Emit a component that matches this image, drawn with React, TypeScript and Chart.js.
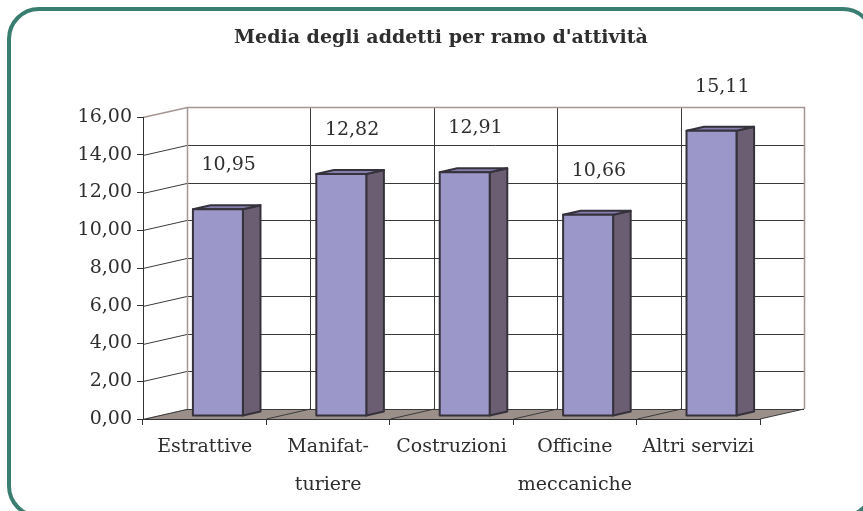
import React, { useEffect, useRef } from "react";
import { Chart, registerables } from "chart.js";

Chart.register(...registerables);

const chartTitle = "Media degli addetti per ramo d'attività";
const categories: (string | string[])[] = [
  "Estrattive",
  ["Manifat-", "turiere"],
  "Costruzioni",
  ["Officine", "meccaniche"],
  "Altri servizi",
];
const values = [10.95, 12.82, 12.91, 10.66, 15.11];
const yMin = 0;
const yMax = 16;
const yStep = 2;

const FONT = "'DejaVu Serif', 'Liberation Serif', serif";
const TEXT = "#2e2e2e";
const DX = 44;
const DY = -10;
const D1 = 0.3;
const D2 = 0.7;

const fmt = (v: number) => v.toFixed(2).replace(".", ",");

const line = (ctx: CanvasRenderingContext2D, pts: number[][], color: string, w = 1) => {
  ctx.beginPath();
  ctx.moveTo(pts[0][0], pts[0][1]);
  for (let i = 1; i < pts.length; i++) ctx.lineTo(pts[i][0], pts[i][1]);
  ctx.strokeStyle = color;
  ctx.lineWidth = w;
  ctx.stroke();
};

const depthPlugin = {
  id: "depth3d",
  beforeDraw(chart: any) {
    const { ctx, chartArea: ca, scales } = chart;
    const y = scales.y;
    const x = scales.x;
    const L = ca.left, R = ca.right, T = ca.top, B = ca.bottom;
    ctx.save();
    // floor
    ctx.beginPath();
    ctx.moveTo(L, B);
    ctx.lineTo(R, B);
    ctx.lineTo(R + DX, B + DY);
    ctx.lineTo(L + DX, B + DY);
    ctx.closePath();
    ctx.fillStyle = "#9b8f8a";
    ctx.fill();

    const dark = "#3a3a3a";
    const edge = "#a39693";
    for (const t of y.ticks) {
      const py = Math.round(y.getPixelForValue(t.value)) + 0.5;
      if (t.value >= yMax) continue;
      line(ctx, [[L, py], [L + DX, py + DY], [R + DX, py + DY]], dark);
    }
    const n = x.ticks.length;
    for (let i = 1; i < n; i++) {
      const bx = Math.round((x.getPixelForTick(i - 1) + x.getPixelForTick(i)) / 2) + 0.5;
      line(ctx, [[bx + DX, T + DY], [bx + DX, B + DY]], dark);
      line(ctx, [[bx, B], [bx + DX, B + DY]], dark);
    }
    line(ctx, [[R, B], [R + DX, B + DY]], dark);
    const tp = Math.round(T) + 0.5;
    const lx = Math.round(L + DX) + 0.5;
    const rx = Math.round(R + DX) + 0.5;
    line(ctx, [[L, tp], [lx, tp + DY], [rx, tp + DY], [rx, B + DY]], edge, 1.5);
    line(ctx, [[lx, tp + DY], [lx, B + DY]], edge, 1.5);
    ctx.restore();
  },
  afterDatasetsDraw(chart: any) {
    const { ctx } = chart;
    const meta = chart.getDatasetMeta(0);
    ctx.save();
    ctx.lineJoin = "round";
    meta.data.forEach((el: any, i: number) => {
      const { x: cx, y: top, base, width } = el.getProps(["x", "y", "base", "width"], true);
      const dx1 = DX * D1, dy1 = DY * D1, dx2 = DX * D2, dy2 = DY * D2;
      const l = cx - width / 2, r = cx + width / 2;
      const stroke = "#36323b";
      ctx.beginPath();
      ctx.moveTo(r + dx1, top + dy1);
      ctx.lineTo(r + dx2, top + dy2);
      ctx.lineTo(r + dx2, base + dy2);
      ctx.lineTo(r + dx1, base + dy1);
      ctx.closePath();
      ctx.fillStyle = "#6b5e73";
      ctx.fill();
      ctx.strokeStyle = stroke;
      ctx.lineWidth = 2;
      ctx.stroke();
      ctx.beginPath();
      ctx.moveTo(l + dx1, top + dy1);
      ctx.lineTo(l + dx2, top + dy2);
      ctx.lineTo(r + dx2, top + dy2);
      ctx.lineTo(r + dx1, top + dy1);
      ctx.closePath();
      ctx.fillStyle = "#857eae";
      ctx.fill();
      ctx.stroke();
      ctx.beginPath();
      ctx.rect(l + dx1, top + dy1, width, base - top);
      ctx.fillStyle = "#9c97c9";
      ctx.fill();
      ctx.stroke();
      ctx.font = `19px ${FONT}`;
      ctx.fillStyle = TEXT;
      ctx.textAlign = "center";
      ctx.textBaseline = "middle";
      const v = chart.data.datasets[0].data[i];
      ctx.fillText(fmt(v), cx + DX / 2 + 2, top + DY / 2 - 42);
    });
    ctx.restore();
  },
  afterDraw(chart: any) {
    const { ctx } = chart;
    ctx.save();
    ctx.font = `bold 19px ${FONT}`;
    ctx.fillStyle = TEXT;
    ctx.textAlign = "center";
    ctx.textBaseline = "alphabetic";
    ctx.fillText(chartTitle, 441, 43);
    ctx.restore();
  },
};

export default function App() {
  const ref = useRef<HTMLCanvasElement | null>(null);
  useEffect(() => {
    if (!ref.current) return;
    const chart = new Chart(ref.current, {
      type: "bar",
      data: {
        labels: categories,
        datasets: [
          {
            data: values,
            backgroundColor: "rgba(0,0,0,0)",
            borderWidth: 0,
            categoryPercentage: 1,
            barPercentage: 0.405,
          },
        ],
      },
      options: {
        responsive: false,
        animation: false,
        devicePixelRatio: 1,
        layout: { padding: { top: 117, right: 103, left: 0, bottom: 0 } },
        plugins: { legend: { display: false }, tooltip: { enabled: false }, title: { display: false } },
        scales: {
          x: {
            afterFit: (s: any) => {
              s.height = 92;
            },
            grid: { display: true, drawOnChartArea: false, drawTicks: true, tickLength: 6, color: "#333" },
            border: { display: true, color: "#333", width: 1 },
            ticks: {
              color: TEXT,
              padding: 4,
              maxRotation: 0,
              autoSkip: false,
              font: { family: FONT, size: 19, lineHeight: 1.95 },
            },
          },
          y: {
            min: yMin,
            max: yMax,
            afterFit: (s: any) => {
              s.width = 143;
            },
            grid: { display: true, drawOnChartArea: false, drawTicks: true, tickLength: 6, color: "#333" },
            border: { display: true, color: "#333", width: 1 },
            ticks: {
              stepSize: yStep,
              color: TEXT,
              padding: 5,
              font: { family: FONT, size: 19 },
              callback: (v: any) => fmt(Number(v)),
            },
          },
        },
      },
      plugins: [depthPlugin],
    });
    return () => chart.destroy();
  }, []);

  return (
    <div style={{ position: "fixed", left: 0, top: 0, width: 863, height: 511, overflow: "hidden", background: "#fff" }}>
      <div
        style={{
          position: "absolute",
          left: 7,
          top: 7,
          width: 868,
          height: 511,
          border: "4px solid #3a7d71",
          borderRadius: 32,
          boxSizing: "border-box",
        }}
      />
      <canvas ref={ref} width={863} height={511} style={{ position: "absolute", left: 0, top: 0, width: 863, height: 511 }} />
    </div>
  );
}
